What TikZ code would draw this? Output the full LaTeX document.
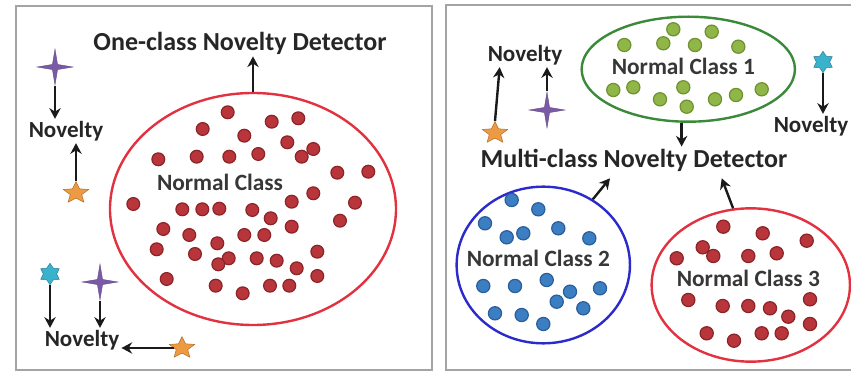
\documentclass[tikz,border=0pt]{standalone}
\usepackage{fontspec}
\setmainfont{Carlito}
\usetikzlibrary{shapes.geometric,arrows.meta}
\definecolor{framegray}{HTML}{A4A4A4}
\definecolor{txt}{HTML}{262626}
\definecolor{arrowc}{HTML}{1A1A1A}
\definecolor{ringred}{HTML}{E2313F}
\definecolor{dotred}{HTML}{B8363B}
\definecolor{dotredd}{HTML}{8C2427}
\definecolor{ringgreen}{HTML}{3A8A3A}
\definecolor{dotgreen}{HTML}{8FB647}
\definecolor{dotgreend}{HTML}{6E9232}
\definecolor{ringblue}{HTML}{2B2BCB}
\definecolor{dotblue}{HTML}{3C7EC2}
\definecolor{dotblued}{HTML}{2B5E9A}
\definecolor{starpurple}{HTML}{7A5AA6}
\definecolor{starorange}{HTML}{EE9A42}
\definecolor{starcyan}{HTML}{3AB2CC}
\begin{document}
\begin{tikzpicture}[x=0.75pt,y=-0.75pt,
  panel/.style={draw=framegray, line width=1.6pt},
  ring/.style={ellipse, inner sep=0pt, line width=1.8pt},
  arr/.style={draw=arrowc, line width=1.8pt, -{Stealth[length=8pt,width=8.5pt]}},
  title/.style={font=\bfseries\fontsize{19.5}{23}\selectfont, text=txt, inner sep=1.5pt},
  label/.style={font=\bfseries\fontsize{17.3}{20}\selectfont, text=txt, inner sep=1.5pt},
  classlbl/.style={font=\bfseries\fontsize{17.5}{20}\selectfont, text=txt!92, inner sep=0pt},
  fourstar/.style={star, star points=4, star point ratio=5, fill=starpurple, draw=starpurple!80!black, line width=0.3pt, minimum size=27pt, inner sep=0pt},
  fivestar/.style={star, star points=5, star point ratio=2.2, fill=starorange, draw=starorange!75!black, line width=0.4pt, minimum size=20pt, inner sep=0pt, yscale=0.85},
  sixstar/.style={star, star points=6, star point ratio=1.6, fill=starcyan, draw=starcyan!75!black, line width=0.4pt, minimum size=16pt, inner sep=0pt},
  rdot/.style={fill=dotred, draw=dotredd, line width=0.9pt},
  gdot/.style={fill=dotgreen, draw=dotgreend, line width=0.9pt},
  bdot/.style={fill=dotblue, draw=dotblued, line width=0.9pt}]
\useasboundingbox (0,0) rectangle (851,374);
\fill[white] (0,0) rectangle (851,374);

% two panels
\draw[panel] (16,6) rectangle (432,370);
\draw[panel] (446,5) rectangle (858,370);

% ---------- one-class panel ----------
\node[ring, draw=ringred, minimum width=214.5pt, minimum height=174pt] (oc) at (253,209) {};
\foreach \p in {(227.7,112.3),(271.7,121.7),(298.3,118.3),(202.7,129),(244.3,135.7),(287.3,142.3),
  (313.3,149),(301.7,156.7),(158.3,159.3),(196.7,156.7),(229.3,156.7),(258.3,154),(337.3,172.7),
  (368.3,171.7),(313.3,193.3),(291.7,201.7),(355,202.7),(133.3,204),(182.3,209.3),(202.3,209.3),
  (219.3,208.7),(252.3,210),(270.7,218.3),(340,220.7),(291.7,226.7),(163.3,229),(189.3,235),
  (244.3,235),(264.3,235),(217.3,243.3),(156.7,249.3),(195,254),(317.3,251.7),(228.7,258.3),
  (218.3,264.3),(256.7,258.3),(276.7,260.7),(296.7,268.3),(166.7,279),(317.3,276),(215.7,285.7),
  (242.7,293.3),(270,285.7),(289.3,285.7)}
  \path[rdot] \p circle[radius=6.4];
\node[classlbl] (ocl) at (220,182) {Normal Class};
\node[title] (oct) at (240,43) {One-class Novelty Detector};
\draw[arr] (oc.north) -- (oc.north |- oct.south);

\node[label] (nv1) at (66,131) {Novelty};
\node[fourstar] (ps1) at (55,67) {};
\node[fivestar] (os1) at (76,193) {};
\draw[arr] (ps1.south) -- (ps1.south |- nv1.north);
\draw[arr] (os1.north) -- (os1.north |- nv1.south);

\node[label] (nv2) at (82,340) {Novelty};
\node[sixstar] (cs1) at (50,274) {};
\node[fourstar] (ps2) at (100,282) {};
\node[fivestar] (os2) at (182,348) {};
\draw[arr] (cs1.south) -- (cs1.south |- nv2.north);
\draw[arr] (ps2.south) -- (ps2.south |- nv2.north);
\draw[arr] (os2.west) -- (nv2.east |- os2.west);

% ---------- multi-class panel ----------
\node[ring, draw=ringgreen, minimum width=160pt, minimum height=78.75pt] (c1) at (688.3,69.2) {};
\foreach \p in {(673.3,29.3),(711.7,31.7),(624.3,45),(663.3,43.3),(695,45),(738.3,46.7),(613.3,90),
  (633.3,87.3),(683.3,87.3),(660,99.3),(715,99.3),(736,95),(761.7,89.3),(686.7,106.7)}
  \path[gdot] \p circle[radius=6.6];
\node[classlbl] (c1l) at (683.3,66.7) {Normal Class 1};

\node[ring, draw=ringblue, minimum width=130pt, minimum height=117.5pt] (c2) at (543.3,265) {};
\foreach \p in {(511.7,200),(538.3,209.3),(485,223.3),(506.7,237.3),(523.3,233.3),(558.3,228.3),
  (589.3,238.3),(483.3,286),(515,286),(546.7,280),(570,291.7),(600,288.3),(556.7,301.7),
  (583.3,308.3),(495,313.3),(521.7,315),(543.3,324)}
  \path[bdot] \p circle[radius=6.6];
\node[classlbl] (c2l) at (538.3,258.3) {Normal Class 2};

\node[ring, draw=ringred, minimum width=148.75pt, minimum height=115pt] (c3) at (750.8,285) {};
\foreach \p in {(723.3,226.7),(762.7,233.3),(806.7,240.7),(702.7,247.3),(713.3,256),(676.7,258.3),
  (748.3,256),(776.7,253.3),(688.3,300),(722.7,306),(748.3,306),(770,308.3),(788.3,316.7),
  (810,299.3),(810,324),(706.7,333.3),(734,340.7),(761.7,333.3),(781.7,333.3)}
  \path[rdot] \p circle[radius=6.6];
\node[classlbl] (c3l) at (748.3,278.3) {Normal Class 3};

\node[title] (mc) at (634,160) {Multi-class Novelty Detector};
\coordinate (mc2) at (610,178.3);
\coordinate (mc3) at (721.7,178.3);
\draw[arr] ([xshift=-5pt]c1.south) -- ([xshift=-5pt]c1.south |- mc.north);
\draw[arr] (c2.53) -- (mc2);
\draw[arr] (c3.103) -- (mc3);

\node[label] (nv3) at (525,55) {Novelty};
\node[fivestar] (os3) at (495,133) {};
\node[fourstar] (ps3) at (547,110) {};
\draw[arr] (os3.north) -- ([xshift=-19pt]nv3.south);
\draw[arr] (ps3.north) -- (ps3.north |- nv3.south);

\node[label] (nv4) at (811,126) {Novelty};
\node[sixstar] (cs2) at (823,62) {};
\draw[arr] (cs2.south) -- (cs2.south |- nv4.north);
\end{tikzpicture}
\end{document}
